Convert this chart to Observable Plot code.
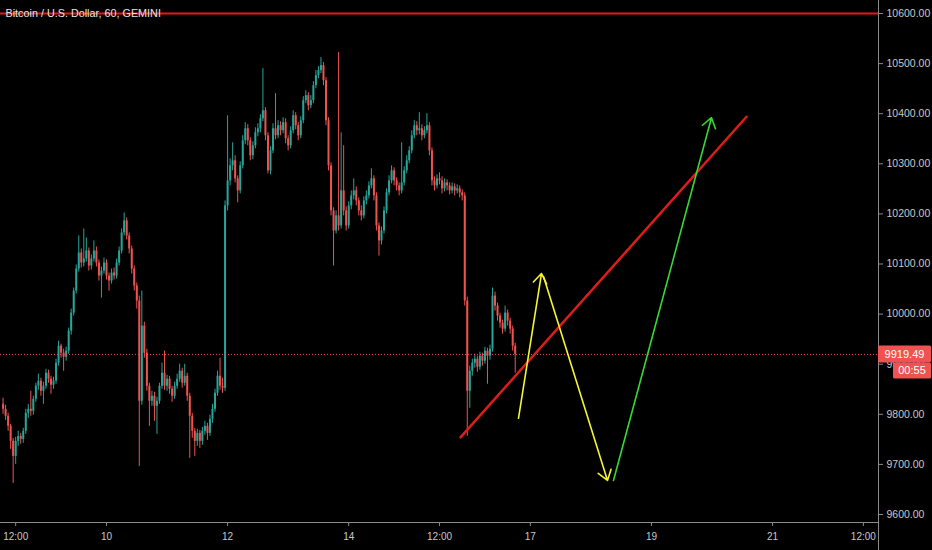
<!DOCTYPE html>
<html>
<head>
<meta charset="utf-8">
<script src="https://cdn.jsdelivr.net/npm/d3@7"></script>
<script src="https://cdn.jsdelivr.net/npm/@observablehq/plot@0.6"></script>
<style>
  html, body { margin: 0; padding: 0; background: #000; }
  #chart svg { display: block; }
</style>
</head>
<body>
<div id="chart"></div>
<script>
// ---- Data (hourly BTC/USD candles, GEMINI) ----
const title = "Bitcoin / U.S. Dollar, 60, GEMINI";
const firstCandle = "2019-09-08T07:00Z";
const firstOpen = 9820;
const closes = [
9810,9796,9776,9746,9716,9746,9756,9750,9766,9802,
9810,9806,9830,9856,9866,9846,9856,9882,9870,9858,
9866,9902,9936,9922,9914,9926,9966,10002,10046,10090,
10122,10102,10110,10126,10096,10110,10126,10102,10076,10086,
10102,10076,10066,10082,10076,10102,10126,10162,10186,10156,
10130,10090,10056,10026,9826,9976,9922,9856,9826,9836,
9816,9826,9856,9882,9856,9870,9850,9836,9856,9870,
9886,9862,9876,9836,9796,9766,9746,9762,9746,9766,
9776,9762,9790,9810,9842,9876,9856,9852,10216,10266,
10296,10306,10270,10246,10296,10346,10370,10346,10316,10336,
10362,10370,10390,10406,10356,10286,10326,10370,10356,10376,
10366,10382,10350,10336,10366,10396,10376,10356,10386,10426,
10436,10416,10426,10456,10476,10486,10496,10466,10386,10296,
10206,10166,10196,10176,10246,10206,10176,10216,10236,10246,
10226,10206,10196,10226,10236,10256,10270,10236,10176,10146,
10166,10206,10242,10266,10286,10266,10256,10246,10262,10286,
10306,10326,10356,10376,10366,10370,10356,10366,10376,10326,
10266,10256,10270,10266,10250,10262,10256,10246,10254,10246,
10250,10242,10236,10026,9846,9886,9902,9910,9894,9916,
9906,9926,9916,9930,10036,10016,9996,9982,9970,10002,
9986,9970,9936,9919.49
];
const highs = [
9832,9818,9802,9780,9752,9754,9766,9762,9772,9810,
9820,9846,9836,9862,9880,9872,9864,9890,9888,9876,
9874,9910,9946,9940,9930,9934,9972,10010,10052,10098,
10156,10130,10170,10152,10132,10118,10146,10134,10108,10094,
10112,10108,10082,10090,10092,10110,10134,10170,10202,10192,
10162,10136,10096,10062,10036,10046,9984,9930,9862,9846,
9844,9834,9862,9902,9926,9878,9876,9856,9864,9880,
9900,9892,9900,9882,9842,9802,9772,9770,9768,9774,
9786,9782,9798,9820,9850,9886,9912,9872,10226,10396,
10310,10342,10316,10276,10304,10356,10382,10378,10352,10344,
10372,10380,10398,10490,10412,10362,10334,10380,10440,10386,
10384,10392,10390,10356,10374,10406,10402,10382,10394,10434,
10446,10442,10436,10464,10486,10494,10512,10502,10472,10392,
10302,10212,10206,10522,10362,10336,10214,10224,10246,10270,
10254,10232,10216,10234,10246,10264,10290,10276,10242,10182,
10174,10214,10250,10276,10296,10292,10272,10262,10342,10294,
10316,10334,10366,10386,10384,10402,10378,10374,10400,10382,
10332,10274,10278,10282,10274,10270,10268,10262,10262,10260,
10258,10256,10248,10242,10034,9896,9910,9920,9916,9924,
9922,9934,9932,9938,10052,10044,10022,10002,9988,10016,
10008,9992,9976,9942
];
const lows = [
9800,9788,9766,9730,9662,9700,9736,9740,9742,9760,
9792,9796,9798,9824,9848,9836,9820,9850,9862,9840,
9850,9860,9896,9912,9886,9906,9920,9958,9996,10040,
10084,10092,10094,10104,10086,10088,10104,10094,10066,10032,
10080,10068,10046,10060,10068,10070,10096,10120,10156,10148,
10120,10080,10046,10010,9696,9818,9912,9846,9776,9816,
9786,9760,9820,9850,9848,9846,9840,9824,9830,9850,
9864,9852,9856,9826,9712,9752,9716,9736,9732,9738,
9758,9748,9756,9782,9804,9836,9848,9842,9846,10206,
10256,10286,10262,10222,10240,10290,10338,10336,10306,10308,
10330,10354,10362,10384,10346,10280,10278,10320,10348,10350,
10356,10360,10340,10326,10330,10360,10368,10346,10350,10380,
10420,10406,10410,10420,10450,10470,10480,10456,10376,10286,
10196,10096,10160,10166,10170,10196,10166,10170,10208,10228,
10216,10196,10186,10190,10218,10230,10250,10226,10166,10116,
10138,10160,10200,10236,10260,10256,10246,10236,10240,10256,
10280,10300,10320,10350,10356,10358,10346,10350,10360,10316,
10256,10246,10250,10258,10240,10244,10246,10238,10240,10236,
10240,10232,10226,10016,9756,9812,9876,9892,9884,9888,
9896,9900,9860,9908,9924,10006,9986,9972,9960,9964,
9976,9960,9926,9882
];

// axis ticks
const priceTicks = [9600, 9700, 9800, 9900, 10000, 10100, 10200, 10300, 10400, 10500, 10600];
const timeTicks = ["2019-09-08T12:00Z","2019-09-10T00:00Z","2019-09-12T00:00Z","2019-09-14T00:00Z",
  "2019-09-15T12:00Z","2019-09-17T00:00Z","2019-09-19T00:00Z","2019-09-21T00:00Z","2019-09-22T12:00Z"];
const timeTickLabels = ["12:00","10","12","14","12:00","17","19","21","12:00"];
const xDomain = ["2019-09-08T05:59Z", "2019-09-22T18:00Z"];
const yDomain = [9584, 10626];

// drawings
const resistanceLevel = [10600];
const lastPrice = 9919.49;
const countdown = "00:55";
const trendLine = [
  {t: "2019-09-15T20:19Z", p: 9754},
  {t: "2019-09-20T13:41Z", p: 10394}
];
const yellowArrows = [
  {t1: "2019-09-16T19:18Z", p1: 9792, t2: "2019-09-17T04:25Z", p2: 10081},
  {t1: "2019-09-17T05:13Z", p1: 10075, t2: "2019-09-18T06:35Z", p2: 9668}
];
const greenArrow = [
  {t1: "2019-09-18T08:57Z", p1: 9668, t2: "2019-09-19T23:48Z", p2: 10392}
];

// ---- Build ----
const T = s => new Date(s);
const t0 = T(firstCandle).getTime();
const candles = closes.map((c, i) => ({
  t: new Date(t0 + i * 3600e3),
  o: i === 0 ? firstOpen : closes[i - 1],
  c, h: highs[i], l: lows[i]
}));
const UP = "#26a69a", DOWN = "#ef5350";
const col = d => d.c >= d.o ? UP : DOWN;
const tickDates = timeTicks.map(T);
const tickLabel = new Map(tickDates.map((d, i) => [+d, timeTickLabels[i]]));

const W = 932, H = 550, MR = 54, MB = 28;

const plot = Plot.plot({
  width: W, height: H,
  marginLeft: 0, marginRight: MR, marginTop: 0, marginBottom: MB,
  style: {background: "#000", color: "#c8c8c8", fontFamily: "Liberation Sans, Arial, sans-serif", fontSize: "10px"},
  x: {type: "utc", domain: xDomain.map(T)},
  y: {domain: yDomain},
  marks: [
    Plot.axisY({anchor: "right", ticks: priceTicks, tickFormat: d => d.toFixed(2), tickSize: 4, tickPadding: 4, label: null, fontSize: 10.5, stroke: "#8a8a8a"}),
    Plot.axisX({ticks: tickDates, tickFormat: d => tickLabel.get(+d), tickSize: 4, tickPadding: 6, label: null, fontSize: 10, stroke: "#8a8a8a"}),
    Plot.ruleY(resistanceLevel, {stroke: "#e3191b", strokeWidth: 2}),
    Plot.ruleX(candles, {x: "t", y1: "l", y2: "h", stroke: col, strokeWidth: 1}),
    Plot.ruleX(candles, {x: "t", y1: "o", y2: "c", stroke: col, strokeWidth: 2}),
    Plot.ruleY([lastPrice], {stroke: "#ef5350", strokeWidth: 1, strokeDasharray: "1,2"}),
    Plot.line(trendLine, {x: d => T(d.t), y: "p", stroke: "#e01b1b", strokeWidth: 2.5}),
    Plot.arrow(yellowArrows, {x1: d => T(d.t1), y1: "p1", x2: d => T(d.t2), y2: "p2", stroke: "#f5f532", strokeWidth: 1.6, headLength: 11, headAngle: 70}),
    Plot.arrow(greenArrow, {x1: d => T(d.t1), y1: "p1", x2: d => T(d.t2), y2: "p2", stroke: "#34d934", strokeWidth: 1.6, headLength: 11, headAngle: 70}),
    Plot.text([title], {frameAnchor: "top-left", dx: 5, dy: 9, textAnchor: "start", fill: "#e6e6e6", fontSize: 10.8})
  ]
});

document.getElementById("chart").appendChild(plot);

// axis border lines and last-price labels
const svg = d3.select(plot);
const xEdge = W - MR + 0.5;
svg.append("line").attr("x1", xEdge).attr("x2", xEdge).attr("y1", 0).attr("y2", H)
  .attr("stroke", "#8a8a8a").attr("stroke-width", 1);
svg.append("line").attr("x1", 0).attr("x2", W - MR).attr("y1", H - MB + 0.5).attr("y2", H - MB + 0.5)
  .attr("stroke", "#8a8a8a").attr("stroke-width", 1);

const yy = plot.scale("y").apply(lastPrice);
const g = svg.append("g").attr("font-family", "Liberation Sans, Arial, sans-serif").attr("font-size", 11);
g.append("rect").attr("x", W - MR).attr("y", yy - 8.5).attr("width", MR - 1).attr("height", 17).attr("rx", 1.5).attr("fill", "#ef5350");
g.append("text").attr("x", W - MR + 26.5).attr("y", yy).attr("dy", "0.35em").attr("text-anchor", "middle").attr("fill", "#fff").text(lastPrice.toFixed(2));
g.append("rect").attr("x", W - 39).attr("y", yy + 8.5).attr("width", 38).attr("height", 16).attr("rx", 1.5).attr("fill", "#ef5350");
g.append("text").attr("x", W - 20).attr("y", yy + 16.5).attr("dy", "0.35em").attr("text-anchor", "middle").attr("fill", "#fff").text(countdown);
</script>
</body>
</html>
